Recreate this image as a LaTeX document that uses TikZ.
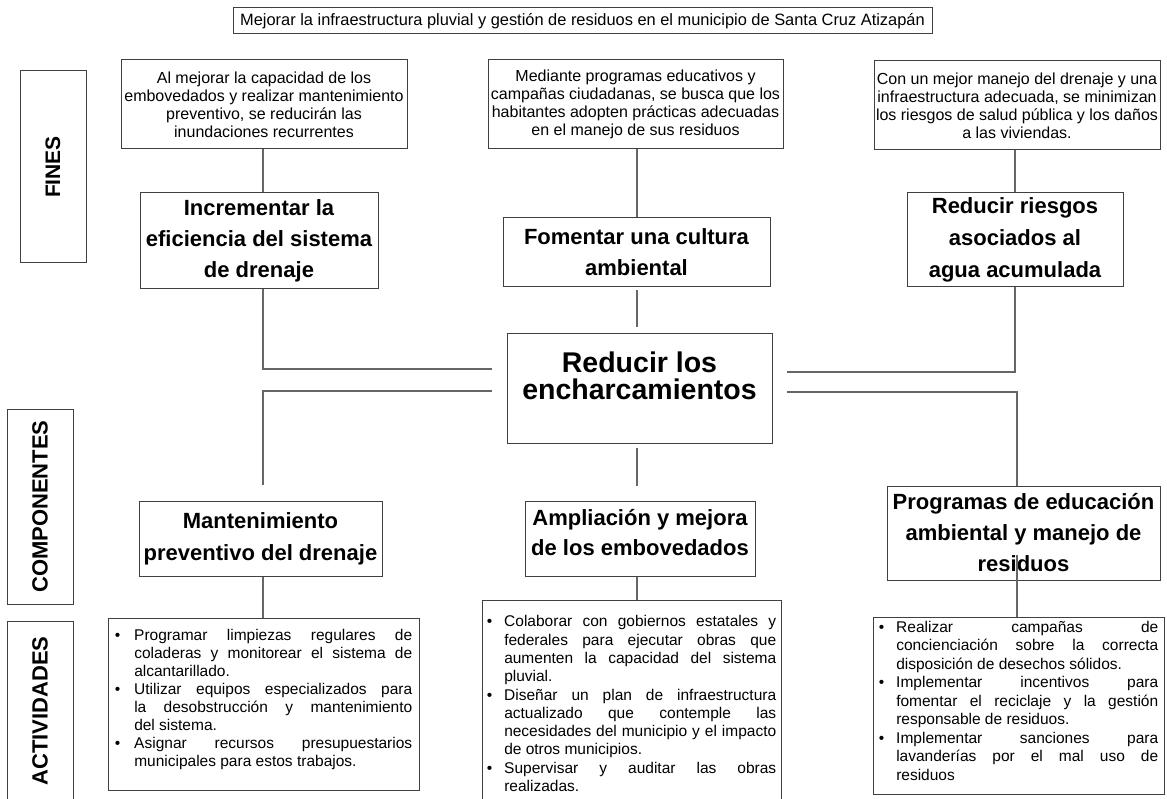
\documentclass[tikz,border=0pt]{standalone}
\usepackage{fontspec}
\setmainfont{Liberation Sans}
\usepackage{graphicx}
\usetikzlibrary{calc}
\hbadness=10000
\vbadness=10000
\hfuzz=20pt
\vfuzz=50pt
\newlength\hangw
\newcommand\bline[1]{\hbox to \linewidth{\makebox[\hangw][l]{•}#1}}
\newcommand\jline[1]{\hbox to \linewidth{\kern\hangw #1}}
\newcommand\eline[1]{\hbox{\kern\hangw #1}}
\begin{document}
\begin{tikzpicture}[x=1pt,y=-1pt,
  box/.style={draw=black!75, line width=1pt, fill=white, inner sep=0pt, align=center},
  conn/.style={draw=black!60, line width=1.2pt},
  smalltxt/.style={font=\fontsize{16}{18.1}\selectfont},
  bigtxt/.style={font=\fontsize{22}{31}\selectfont\bfseries},
  lbltxt/.style={font=\fontsize{22}{24}\selectfont\bfseries}]
\fill[white] (0,0) rectangle (1167,799);
\useasboundingbox (0,0) rectangle (1167,799);

% title
\node[box, minimum width=699pt, minimum height=26pt, font=\fontsize{16.4}{19}\selectfont] (title) at (582.5,21)
  {Mejorar la infraestructura pluvial y gestión de residuos en el municipio de Santa Cruz Atizapán};

% side labels
\node[box, minimum width=66pt, minimum height=192pt, font=\fontsize{21}{24}\selectfont\bfseries] (lfin) at (53,167) {\rotatebox{90}{FINES}};
\node[box, minimum width=66pt, minimum height=195pt, lbltxt] (lcomp) at (40,506.5) {\rotatebox{90}{COMPONENTES}};
\node[box, minimum width=66pt, minimum height=180pt, lbltxt] (lact) at (40,711) {\rotatebox{90}{ACTIVIDADES}};

% fines texts
\node[box, smalltxt, minimum width=286pt, minimum height=89pt] (t1) at (264,104.5)
  {Al mejorar la capacidad de los\\embovedados y realizar mantenimiento\\preventivo, se reducirán las\\inundaciones recurrentes};
\node[box, smalltxt, minimum width=295pt, minimum height=89pt] (t2) at (635.5,104.5)
  {Mediante programas educativos y\\campañas ciudadanas, se busca que los\\habitantes adopten prácticas adecuadas\\en el manejo de sus residuos};
\node[box, smalltxt, minimum width=286pt, minimum height=89pt] (t3) at (1017,105.5)
  {Con un mejor manejo del drenaje y una\\infraestructura adecuada, se minimizan\\los riesgos de salud pública y los daños\\a las viviendas.};

% fines
\node[box, bigtxt, minimum width=238pt, minimum height=96pt] (f1) at (259,241)
  {Incrementar la\\eficiencia del sistema\\de drenaje};
\node[box, bigtxt, minimum width=267pt, minimum height=69pt] (f2) at (636.5,252.5)
  {Fomentar una cultura\\ambiental};
\node[box, bigtxt, font=\fontsize{22}{32}\selectfont\bfseries, minimum width=216pt, minimum height=94pt] (f3) at (1015,240)
  {Reducir riesgos\\asociados al\\agua acumulada};

% central problem
\node[box, minimum width=265pt, minimum height=109pt] (c) at (639.5,388.5) {};
\node[font=\fontsize{28.5}{27}\selectfont\bfseries, align=center, inner sep=0pt, anchor=north] (ct) at (639.5,351.5)
  {Reducir los\\encharcamientos};

% components
\node[box, bigtxt, font=\fontsize{22}{32}\selectfont\bfseries, minimum width=243pt, minimum height=75pt] (m1) at (260.5,538.5)
  {Mantenimiento\\preventivo del drenaje};
\node[box, bigtxt, font=\fontsize{22}{30}\selectfont\bfseries, minimum width=230pt, minimum height=75pt] (m2) at (640,538.5)
  {Ampliación y mejora\\de los embovedados\rule[-12pt]{0pt}{12pt}};
\node[box, bigtxt, minimum width=273pt, minimum height=94pt] (m3) at (1023.5,533)
  {Programas de educación\\ambiental y manejo de\\residuos};

% activities
\node[box, inner xsep=6.75pt, inner ysep=0pt] (a1) at (263.5,704)
  {\parbox[c][172pt][t]{297.5pt}{\setlength\hangw{19.5pt}\fontsize{15.5}{18.1}\selectfont\vspace*{11pt}%
  \bline{Programar limpiezas regulares de}
  \jline{coladeras y monitorear el sistema de}
  \eline{alcantarillado.}
  \bline{Utilizar equipos especializados para}
  \jline{la desobstrucción y mantenimiento}
  \eline{del sistema.}
  \bline{Asignar recursos presupuestarios}
  \eline{municipales para estos trabajos.}}};
\node[box, inner xsep=4.75pt, inner ysep=0pt] (a2) at (631.5,707.5)
  {\parbox[c][215pt][t]{289.5pt}{\setlength\hangw{17.5pt}\fontsize{15.5}{18.3}\selectfont\vspace*{15.6pt}%
  \bline{Colaborar con gobiernos estatales y}
  \jline{federales para ejecutar obras que}
  \jline{aumenten la capacidad del sistema}
  \eline{pluvial.}
  \bline{Diseñar un plan de infraestructura}
  \jline{actualizado que contemple las}
  \jline{necesidades del municipio y el impacto}
  \eline{de otros municipios.}
  \bline{Supervisar y auditar las obras}
  \eline{realizadas.}}};
\node[box, inner xsep=5.75pt, inner ysep=0pt] (a3) at (1018.5,705.5)
  {\parbox[c][177pt][t]{279.5pt}{\setlength\hangw{17.5pt}\fontsize{15.5}{18.5}\selectfont\vspace*{4.2pt}%
  \bline{Realizar campañas de}
  \jline{concienciación sobre la correcta}
  \eline{disposición de desechos sólidos.}
  \bline{Implementar incentivos para}
  \jline{fomentar el reciclaje y la gestión}
  \eline{responsable de residuos.}
  \bline{Implementar sanciones para}
  \jline{lavanderías por el mal uso de}
  \eline{residuos}}};

% column coordinates and junctions
\coordinate (xL) at (263,0);
\coordinate (xM) at (637,0);
\coordinate (xR) at (1015,0);
\coordinate (xR2) at (1017,0);
\coordinate (jL1) at (492,369);
\coordinate (jR1) at (787,372);
\coordinate (jL2) at (492,391);
\coordinate (jR2) at (787,392);

% connectors
\draw[conn] (t1.south -| xL) -- (f1.north -| xL);
\draw[conn] (f1.south -| xL) |- (jL1);
\draw[conn] (t2.south -| xM) -- (f2.north -| xM);
\draw[conn] ($(f2.south -| xM)+(0,3)$) -- ($(c.north -| xM)+(0,-6)$);
\draw[conn] (t3.south -| xR) -- (f3.north -| xR);
\draw[conn] (f3.south -| xR) |- (jR1);
\draw[conn] (jL2) -| ($(m1.north -| xL)+(0,-16)$);
\draw[conn] ($(c.south -| xM)+(0,4)$) -- ($(m2.north -| xM)+(0,-15)$);
\draw[conn] (jR2) -| (m3.north -| xR2);
\draw[conn] (m1.south -| xL) -- (a1.north -| xL);
\draw[conn] (m2.south -| xM) -- (a2.north -| xM);
\draw[conn] ($(m3.center -| xR2)+(0,22)$) -- (a3.north -| xR2);
\end{tikzpicture}
\end{document}
